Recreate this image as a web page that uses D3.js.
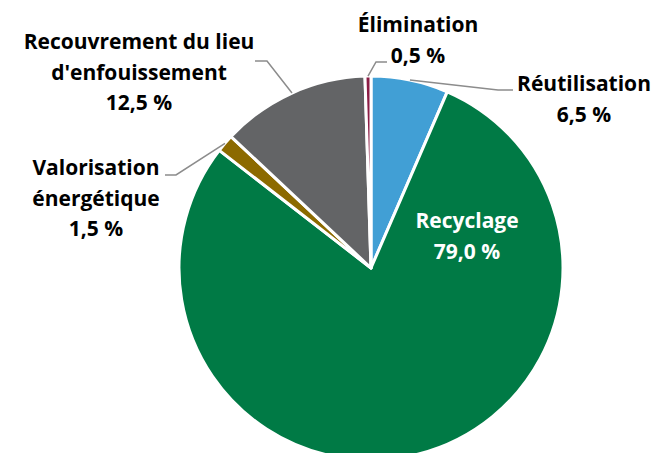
<!DOCTYPE html>
<html>
<head>
<meta charset="utf-8">
<script src="https://cdn.jsdelivr.net/npm/d3@7"></script>
<style>
  body { margin: 0; background: #fff; }
  svg { display: block; }
  text { font-family: "Open Sans", sans-serif; font-weight: 700; font-size: 21px; }
</style>
</head>
<body>
<svg id="chart" width="660" height="453"></svg>
<script>
let width = 660,
  height = 453;

// values, in pie order (clockwise from 12 o'clock)
const categories = ["Réutilisation", "Recyclage", "Valorisation énergétique",
  "Recouvrement du lieu d'enfouissement", "Élimination"];
const values = [6.5, 79.0, 1.5, 12.5, 0.5];
const label_lines = [
  ["Réutilisation"],
  ["Recyclage"],
  ["Valorisation", "énergétique"],
  ["Recouvrement du lieu", "d'enfouissement"],
  ["Élimination"]
];
const colors = ["#419fd5", "#007a45", "#8c6a00", "#636466", "#8c1c45"];

// label placement: centre x, first baseline, leader elbow and end (null = inside)
const label_pos = [
  { x: 584, y: 91, elbow: [498, 90], end: [513, 90] },
  { x: 467, y: 228, elbow: null },
  { x: 96, y: 175, elbow: [176, 175], end: [165, 175] },
  { x: 139, y: 49, elbow: [267, 61], end: [255, 61] },
  { x: 418, y: 32, elbow: [376, 62], end: [387, 62] }
];

let cx = 371, cy = 268, radius = 192, line_h = 30.5;

const fr = d3.formatLocale({ decimal: ",", thousands: " ", grouping: [3], currency: ["", " €"] });
const pct = v => fr.format(".1f")(v) + " %";

function visualize() {
  let pie = d3.pie().sort(null).value(d => d.value)
  let arcs = pie(categories.map((c, i) => ({ name: c, value: values[i], i: i })))

  let arc_gen = d3.arc().innerRadius(0).outerRadius(radius)
  let outer = d3.arc().innerRadius(radius).outerRadius(radius)

  let g = d3.select("#chart").append("g")
    .attr("transform", `translate(${cx},${cy})`)

  g.selectAll("path.slice")
    .data(arcs).enter()
    .append("path")
    .attr("class", "slice")
    .attr("d", arc_gen)
    .attr("fill", d => colors[d.data.i])
    .attr("stroke", "#fff")
    .attr("stroke-width", 3)
    .attr("stroke-linejoin", "round")

  // leader lines
  let leaders = arcs.filter(d => label_pos[d.data.i].elbow)
  d3.select("#chart").selectAll("polyline")
    .data(leaders).enter()
    .append("polyline")
    .attr("points", d => {
      let p = outer.centroid(d)
      let lp = label_pos[d.data.i]
      return [[p[0] + cx, p[1] + cy], lp.elbow, lp.end].map(q => q.join(",")).join(" ")
    })
    .attr("fill", "none")
    .attr("stroke", "#8c8c8c")
    .attr("stroke-width", 1.5)

  // labels
  let labels = d3.select("#chart").selectAll("text.lbl")
    .data(arcs).enter()
    .append("text")
    .attr("class", "lbl")
    .attr("text-anchor", "middle")
    .attr("fill", d => d.data.i == 1 ? "#fff" : "#000")

  labels.each(function (d) {
    let lp = label_pos[d.data.i]
    let lines = label_lines[d.data.i].concat([pct(d.data.value)])
    d3.select(this).selectAll("tspan")
      .data(lines).enter()
      .append("tspan")
      .attr("x", lp.x)
      .attr("y", (t, k) => lp.y + k * line_h)
      .text(t => t)
  })
}

visualize()
</script>
</body>
</html>
